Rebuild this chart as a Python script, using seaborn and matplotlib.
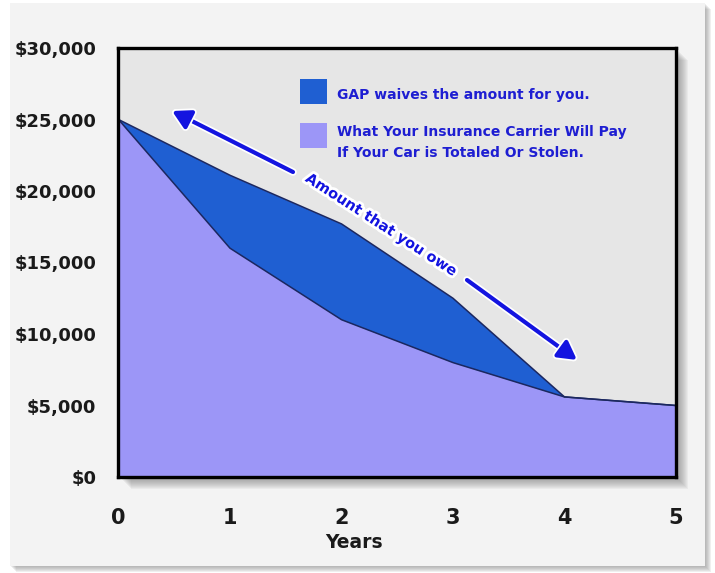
import matplotlib
matplotlib.use("Agg")
import matplotlib.pyplot as plt
import matplotlib.patheffects as pe
from matplotlib.patches import Rectangle
import seaborn as sns
import pandas as pd

# ---- data ----
years = [0, 1, 2, 3, 4, 5]
amount_owed = [25000, 21100, 17700, 12500, 5600, 5000]
insurance_pays = [25000, 16000, 11000, 8000, 5600, 5000]
y_ticks = [0, 5000, 10000, 15000, 20000, 25000, 30000]
y_tick_labels = [r"\$0", r"\$5,000", r"\$10,000", r"\$15,000", r"\$20,000", r"\$25,000", r"\$30,000"]
x_ticks = [0, 1, 2, 3, 4, 5]
legend_labels = ["GAP waives the amount for you.",
                 "What Your Insurance Carrier Will Pay\nIf Your Car is Totaled Or Stolen."]
arrow_text = "Amount that you owe"
x_label = "Years"

df = pd.DataFrame({"Years": years, "Owed": amount_owed, "Insurance": insurance_pays})

sns.set_style("white")
plt.rcParams["font.family"] = ["DejaVu Sans"]
plt.rcParams["font.weight"] = "bold"

W, H = 715, 573
fig = plt.figure(figsize=(W / 100, H / 100), dpi=100)
fig.patch.set_facecolor("white")

# card background with shadow
def px_rect(x0, y0, x1, y1, **kw):
    return Rectangle((x0 / W, 1 - y1 / H), (x1 - x0) / W, (y1 - y0) / H,
                     transform=fig.transFigure, **kw)

for i in range(6, 0, -1):
    fig.add_artist(px_rect(10 + i, 3 + i, 705 + i, 566 + i, facecolor="#808080",
                           edgecolor="none", alpha=0.12, zorder=-3))
fig.add_artist(px_rect(10, 3, 705, 566, facecolor="#f3f3f3", edgecolor="none", zorder=-2))

# axes
ax_l, ax_r, ax_t, ax_b = 118.5, 676, 48, 477
ax = fig.add_axes([ax_l / W, 1 - ax_b / H, (ax_r - ax_l) / W, (ax_b - ax_t) / H])
ax.set_facecolor("#e6e6e6")

# axes drop shadow
for i in range(12, 0, -1):
    fig.add_artist(px_rect(ax_l + i, ax_t + i, ax_r + i, ax_b + i, facecolor="#707070",
                           edgecolor="none", alpha=0.07, zorder=-1))

light = "#9c96f7"
dark = "#1f5fd2"
edge = "#1b2760"

ax.fill_between(df["Years"], 0, df["Insurance"], color=light, linewidth=0, zorder=1)
ax.fill_between(df["Years"], df["Insurance"], df["Owed"], color=dark, linewidth=0, zorder=1)
sns.lineplot(data=df, x="Years", y="Owed", ax=ax, color=edge, linewidth=1.1, zorder=2)
sns.lineplot(data=df, x="Years", y="Insurance", ax=ax, color=edge, linewidth=1.1, zorder=2)

ax.set_xlim(0, 5)
ax.set_ylim(0, 30000)
ax.set_xticks(x_ticks)
ax.set_xticklabels([str(v) for v in x_ticks])
ax.set_yticks(y_ticks)
ax.set_yticklabels(y_tick_labels)
ax.tick_params(axis="y", direction="out", length=5, width=1.2, color="#333333",
               pad=11, labelsize=13, labelcolor="#1a1a1a")
ax.tick_params(axis="x", direction="out", length=4, width=1.2, color="#999999",
               pad=18, labelsize=15, labelcolor="#1a1a1a")
for lab in ax.get_xticklabels() + ax.get_yticklabels():
    lab.set_fontweight("bold")

ax.set_xlabel(x_label, fontsize=13.5, fontweight="bold", color="#1a1a1a")
ax.xaxis.set_label_coords((354 - ax_l) / (ax_r - ax_l), (ax_b - 533) / (ax_b - ax_t))
ax.xaxis.label.set_va("top")
ax.set_ylabel("")

for s in ax.spines.values():
    s.set_visible(True)
    s.set_color("black")
    s.set_linewidth(2.4)
    s.set_zorder(5)

def axc(px, py):
    return ((px - ax_l) / (ax_r - ax_l), (ax_b - py) / (ax_b - ax_t))

# legend (manual)
txt_color = "#1e1ed2"
x0, y0 = axc(300, 104)
x1, y1 = axc(327, 79)
ax.add_patch(Rectangle((x0, y0), x1 - x0, y1 - y0, transform=ax.transAxes,
                       facecolor=dark, edgecolor="none", zorder=3))
x0, y0 = axc(300, 148)
x1, y1 = axc(327, 123)
ax.add_patch(Rectangle((x0, y0), x1 - x0, y1 - y0, transform=ax.transAxes,
                       facecolor=light, edgecolor="none", zorder=3))
tx, ty = axc(337, 95)
ax.text(tx, ty, legend_labels[0], transform=ax.transAxes, fontsize=10,
        fontweight="heavy", color=txt_color, va="center", ha="left", zorder=4)
tx, ty = axc(337, 142.5)
ax.text(tx, ty, legend_labels[1], transform=ax.transAxes, fontsize=10,
        fontweight="heavy", color=txt_color, va="center", ha="left",
        linespacing=1.55, zorder=4)

# arrows and arrow text
arrow_color = "#1414e0"
glow = [pe.withStroke(linewidth=5.5, foreground="white")]
for tail, tip in [((293, 172), (172, 111)), ((467, 280), (577, 360))]:
    ax.annotate("", xy=axc(*tip), xytext=axc(*tail), xycoords="axes fraction",
                textcoords="axes fraction",
                arrowprops=dict(arrowstyle="-|>,head_length=0.9,head_width=0.5",
                                color=arrow_color, lw=3.0, mutation_scale=12,
                                shrinkA=0, shrinkB=0, path_effects=glow),
                zorder=6)
cx, cy = axc(381.7, 225)
ax.text(cx, cy, arrow_text, transform=ax.transAxes, rotation=-32.8,
        rotation_mode="anchor", ha="center", va="center", fontsize=10.5,
        fontweight="bold", color=arrow_color,
        path_effects=[pe.withStroke(linewidth=4, foreground="white")], zorder=6)

fig.savefig("out.png", dpi=100)
